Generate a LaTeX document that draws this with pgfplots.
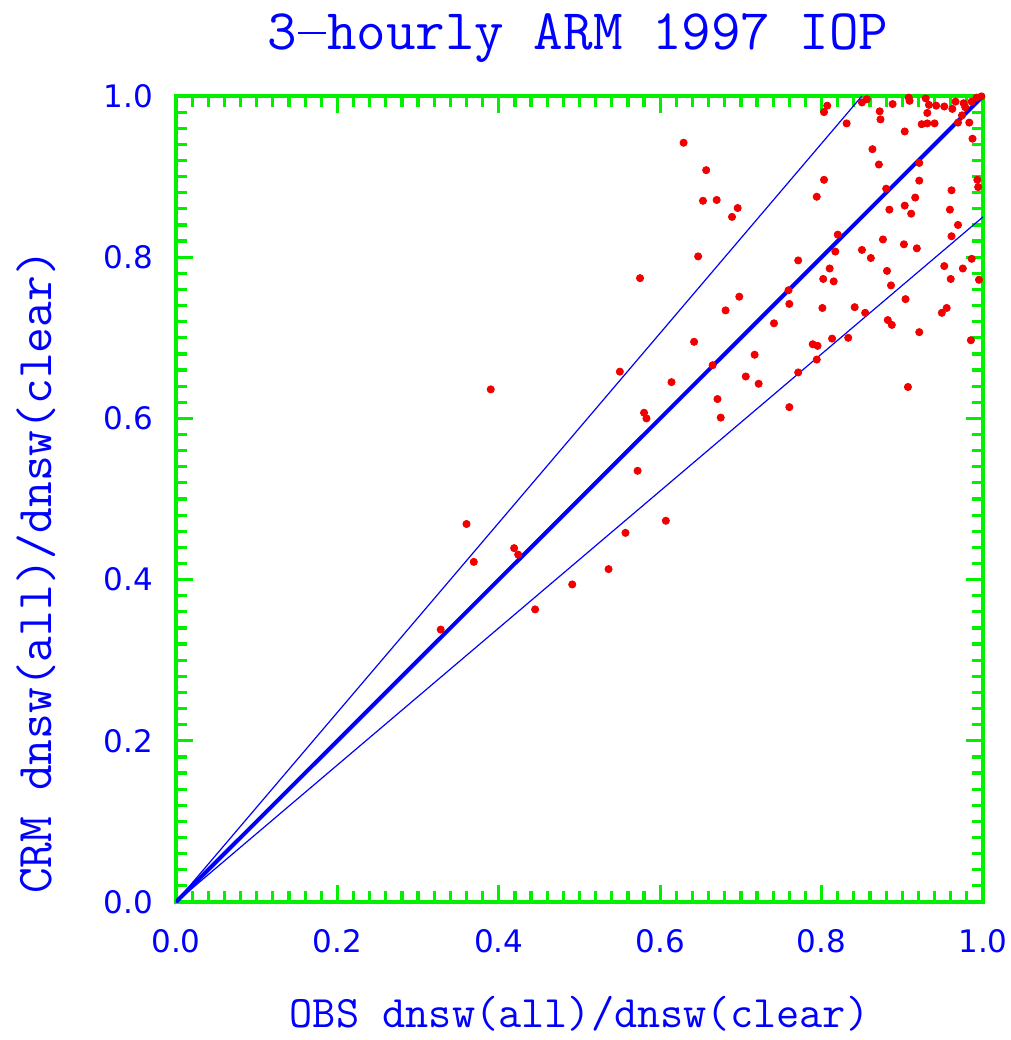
\documentclass[border=0pt]{standalone}
\usepackage{fontspec}
\usepackage{pgfplots}
\pgfplotsset{compat=1.18}
\newfontfamily\tickfont{DejaVu Sans}
\definecolor{ngreen}{RGB}{0,240,0}
\definecolor{nblue}{RGB}{0,0,255}
\definecolor{nred}{RGB}{240,0,0}
\pgfplotstableread{
x y
0.328 0.338
0.360 0.469
0.369 0.422
0.390 0.636
0.419 0.439
0.424 0.431
0.445 0.363
0.491 0.394
0.536 0.413
0.550 0.658
0.557 0.458
0.572 0.535
0.575 0.774
0.580 0.607
0.583 0.600
0.607 0.473
0.614 0.645
0.629 0.942
0.642 0.695
0.647 0.801
0.653 0.870
0.657 0.908
0.665 0.666
0.670 0.871
0.671 0.624
0.675 0.601
0.681 0.734
0.689 0.850
0.696 0.861
0.698 0.751
0.706 0.652
0.717 0.679
0.722 0.643
0.741 0.718
0.759 0.759
0.760 0.742
0.760 0.614
0.771 0.796
0.771 0.657
0.789 0.692
0.794 0.875
0.794 0.673
0.795 0.690
0.801 0.737
0.802 0.773
0.803 0.896
0.803 0.980
0.807 0.988
0.810 0.786
0.813 0.699
0.815 0.770
0.817 0.807
0.820 0.828
0.831 0.966
0.833 0.700
0.841 0.738
0.850 0.809
0.850 0.992
0.854 0.731
0.856 0.996
0.861 0.799
0.863 0.934
0.871 0.915
0.872 0.981
0.873 0.971
0.876 0.822
0.880 0.885
0.881 0.783
0.882 0.722
0.884 0.859
0.886 0.765
0.887 0.716
0.888 0.990
0.902 0.816
0.903 0.864
0.903 0.956
0.904 0.748
0.907 0.639
0.908 0.998
0.909 0.994
0.911 0.854
0.916 0.874
0.918 0.811
0.921 0.917
0.921 0.895
0.921 0.707
0.924 0.965
0.929 0.997
0.931 0.979
0.931 0.966
0.933 0.989
0.940 0.966
0.942 0.988
0.949 0.731
0.952 0.987
0.952 0.789
0.955 0.737
0.959 0.859
0.960 0.773
0.961 0.883
0.961 0.826
0.962 0.984
0.966 0.993
0.969 0.967
0.969 0.840
0.974 0.976
0.975 0.786
0.976 0.991
0.978 0.986
0.983 0.967
0.985 0.697
0.986 0.993
0.986 0.798
0.987 0.947
0.992 0.998
0.993 0.896
0.994 0.887
0.995 0.772
0.998 0.9995
}\pts
\begin{document}
\begin{tikzpicture}
\useasboundingbox (-88pt,-69pt) rectangle (417.5pt,451pt);
\begin{axis}[
  at={(0,0)}, anchor=south west,
  scale only axis,
  width=403.5pt, height=403pt,
  xmin=0, xmax=1, ymin=0, ymax=1,
  xtick={0,0.2,...,1.0}, ytick={0,0.2,...,1.0},
  minor x tick num=9, minor y tick num=9,
  tick align=inside,
  xtick pos=both, ytick pos=both,
  major tick length=8.5pt, minor tick length=5.5pt,
  every tick/.style={ngreen, line width=1.6pt},
  axis line style={ngreen, line width=2pt},
  ticklabel style={font=\tickfont\fontsize{15.5}{17}\selectfont, text=nblue},
  /pgf/number format/assume math mode=true,
  /pgf/number format/fixed, /pgf/number format/fixed zerofill,
  /pgf/number format/precision=1,
  xticklabel style={yshift=-10pt},
  yticklabel style={xshift=-8pt},
  clip mode=individual,
]
\addplot[nblue, line width=0.6pt] coordinates {(0,0) (0.85,1)};
\addplot[nblue, line width=0.6pt] coordinates {(0,0) (1,0.85)};
\addplot[nblue, line width=2pt] coordinates {(0,0) (1,1)};
\addplot[only marks, mark=*, mark size=1.8pt, nred, mark options={draw=nred, fill=nred}] table[x=x, y=y] {\pts};
\end{axis}
\node[anchor=base, text=nblue, font=\ttfamily\fontsize{28.7}{30}\selectfont] at (201pt,426pt) {3\makebox[0.525em]{\rule[0.27em]{0.48em}{0.05em}}hourly ARM 1997 IOP};
\node[anchor=base, text=nblue, font=\ttfamily\fontsize{22.5}{24}\selectfont] at (201.75pt,-62.5pt) {OBS dnsw(all)/dnsw(clear)};
\node[anchor=base, rotate=90, text=nblue, font=\ttfamily\fontsize{25}{27}\selectfont] at (-62pt,165pt) {CRM dnsw(all)/dnsw(clear)};
\end{tikzpicture}
\end{document}
